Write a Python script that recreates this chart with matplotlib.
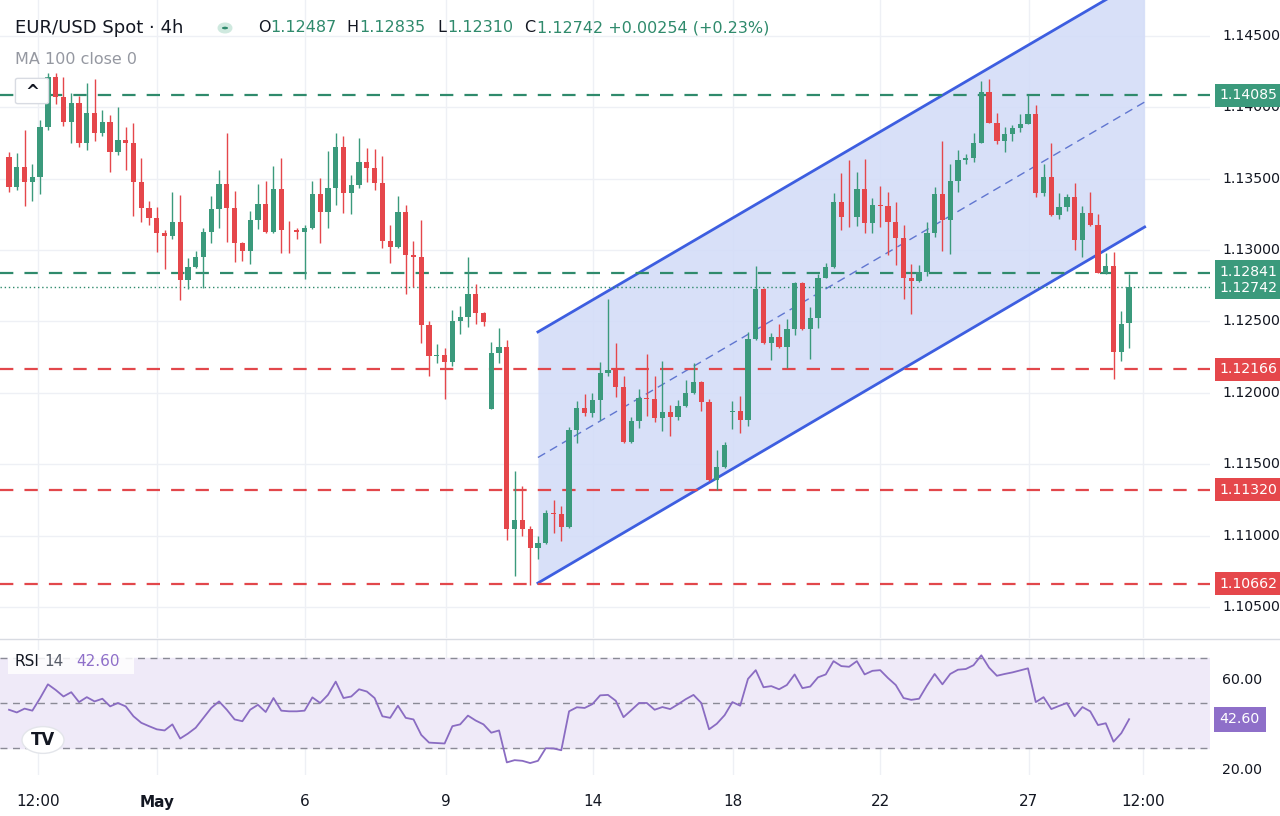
import matplotlib
matplotlib.use("Agg")
import matplotlib.pyplot as plt
from matplotlib.patches import Rectangle, Circle, FancyBboxPatch
from matplotlib.transforms import blended_transform_factory
import numpy as np

# ---------------- data ----------------
first_open = 1.13652
closes = [
 1.13442,1.13582,1.13477,1.13512,1.13863,1.14213,1.14073,1.13898,1.14031,1.13750,
 1.13961,1.13821,1.13898,1.13687,1.13771,1.13750,1.13477,1.13295,1.13225,1.13120,
 1.13099,1.13197,1.12791,1.12882,1.12952,1.13127,1.13288,1.13463,1.13295,1.13050,
 1.12994,1.13211,1.13323,1.13127,1.13428,1.13141,1.13138,1.13127,
 1.13155,1.13393,1.13267,1.13435,1.13722,1.13400,1.13456,1.13617,1.13575,1.13470,
 1.13064,1.13022,1.13267,1.12966,1.12952,1.12476,1.12258,1.12265,1.12216,1.12504,
 1.12532,1.12693,1.12560,1.12497,1.12279,1.12321,1.11047,1.11110,1.11047,1.10913,
 1.10948,1.11159,1.11155,1.11061,1.11740,1.11894,1.11859,
 1.11950,1.12139,1.12160,1.12041,1.11656,1.11803,1.11964,1.11960,1.11824,1.11866,
 1.11831,1.11908,1.11999,1.12076,1.11936,1.11390,1.11481,1.11635,1.11870,1.11810,
 1.12378,1.12728,1.12350,1.12392,1.12321,1.12448,1.12770,1.12448,1.12525,1.12805,
 1.12882,1.13337,1.13232,1.13230,1.13428,1.13190,1.13316,
 1.13310,1.13197,1.13085,1.12805,1.12784,1.12847,1.13120,1.13393,1.13211,1.13484,
 1.13631,1.13645,1.13750,1.14108,1.13891,1.13765,1.13814,1.13856,1.13884,1.13954,
 1.13400,1.13512,1.13246,1.13302,1.13372,1.13071,1.13260,1.13176,1.12840,1.12889,
 1.12286,1.12483,1.12742]
gap_opens = {62: 1.11887, 93: 1.11866, 144: 1.12487}
upper_wick_pips = [
 3.5,10,26,9,5,3,3,14,7,5,21,24,8,5,23,9,14,17,5,8,2,21,19,6,4,3,9,10,36,12,1,6,14,16,16,22,6,2,
 2,9,11,26,10,8,7,17,10,13,19,11,11,5,10,26,3,8,5,8,8,26,7,1,8,13,5,34,24,2,5,2,9,5,2,5,10,
 5,8,50,19,8,3,6,31,16,36,5,4,9,13,1,2,12,2,7,11,5,16,1,3,9,7,1,1,8,3,3,6,20,40,12,21,5,
 13,10,14,9,10,5,8,5,37,12,7,3,7,8,9,7,5,2,7,13,6,9,24,10,2,10,5,15,8,9,10,9,9]
lower_wick_pips = [
 3.5,2,17,13,12,2,5,3,15,3,5,6,2,14,2,19,24,10,5,13,23,2,14,6,1,22,8,13,24,13,7,9,6,1,1,16,16,5,
 33,1,22,11,12,14,15,2,10,5,5,11,1,27,21,13,14,5,26,3,9,7,8,3,0,7,8,33,5,26,8,1,14,10,1,9,2,
 3,14,2,7,1,1,5,12,3,9,13,2,1,1,6,1,7,1,12,9,4,1,1,12,1,15,4,1,21,7,0,1,9,7,6,7,7,
 15,23,19,15,23,1,3,3,22,24,8,3,3,0,0,2,8,5,3,0,3,2,1,3,3,7,12,1,0,1,19,6,17]
rsi = [
 46.8,45.6,47.3,46.4,52.0,58.1,55.6,52.7,54.6,50.2,52.4,50.5,51.7,48.3,49.8,48.3,43.9,41.0,39.5,38.1,
 37.6,40.3,34.0,36.2,38.8,43.2,47.6,50.5,46.8,42.5,41.7,46.8,49.0,45.8,52.0,46.4,46.1,46.1,46.4,52.3,
 49.8,53.4,59.3,52.0,52.7,55.9,54.9,52.0,43.9,43.2,48.6,43.2,42.5,35.6,32.2,32.0,31.8,39.5,40.3,44.2,
 42.0,40.3,36.6,37.6,23.4,24.4,24.1,23.1,24.1,29.7,29.6,28.8,46.1,47.9,47.6,49.3,53.2,53.4,50.8,43.5,
 46.6,49.8,49.8,46.8,48.0,47.1,49.2,51.5,53.4,49.8,38.1,40.6,44.4,50.2,48.6,60.5,64.4,56.8,57.3,55.9,
 57.8,62.5,56.4,57.1,61.2,62.5,68.4,66.2,65.9,68.4,62.5,64.1,64.4,60.9,57.8,52.0,51.2,51.7,57.5,62.7,
 58.1,62.7,64.6,64.9,66.6,71.0,65.5,61.9,62.7,63.4,64.3,65.2,50.2,52.4,47.1,48.5,49.8,43.9,48.0,46.1,
 40.0,40.8,32.6,36.4,42.6]
tick_pos = [3.7, 19.0, 38.0, 56.2, 75.1, 93.1, 112.0, 131.1, 145.8]
tick_labels = ["12:00", "May", "6", "9", "14", "18", "22", "27", "12:00"]
green_levels = [1.14085, 1.12841]
red_levels = [1.12166, 1.11320, 1.10662]
last_price = 1.12742
channel_x = [68.0, 146.0]
channel_upper = [1.12427, 1.14913]
channel_lower = [1.10668, 1.13162]
price_ticks = [1.145, 1.140, 1.135, 1.130, 1.125, 1.120, 1.115, 1.110, 1.105]
rsi_ticks = [60, 20]

GREEN = "#3b9a7c"
RED = "#e5474b"
BLUE = "#3d5ee0"

# ---------------- figure ----------------
W, H = 1280, 816
fig = plt.figure(figsize=(W/100, H/100), dpi=100)
fig.patch.set_facecolor("white")
plot_w = 1210 / W
ax = fig.add_axes([0, 178/H, plot_w, 638/H])
axr = fig.add_axes([0, 41/H, plot_w, 135/H], sharex=ax)

n = len(closes)
opens = []
prev = first_open
for i in range(n):
    opens.append(gap_opens.get(i, prev))
    prev = closes[i]
xs = np.arange(n)

ax.set_xlim(-1.16, 154.4)
ax.set_ylim(1.10283, 1.14752)
for a in (ax, axr):
    for s in a.spines.values():
        s.set_visible(False)
    a.tick_params(left=False, right=False, labelleft=False, bottom=False, labelbottom=False)

# grid
for t in tick_pos:
    ax.axvline(t, color="#eef0f5", lw=1, zorder=0)
    axr.axvline(t, color="#eef0f5", lw=1, zorder=0)
for p in price_ticks:
    ax.axhline(p, color="#eef0f5", lw=1, zorder=0)

# channel
ax.fill_between(channel_x, channel_lower, channel_upper, color="#d4ddf8", alpha=0.9, zorder=1, lw=0)
ax.plot(channel_x, channel_upper, color=BLUE, lw=2, zorder=2)
ax.plot(channel_x, channel_lower, color=BLUE, lw=2, zorder=2)
mid = [(u + l) / 2 for u, l in zip(channel_upper, channel_lower)]
ax.plot(channel_x, mid, color="#6076d0", lw=1, ls=(0, (6, 4)), zorder=2)

# levels
for lv in green_levels:
    ax.axhline(lv, color="#2f8a6c", lw=1.6, ls=(0, (6, 5)), zorder=3)
for lv in red_levels:
    ax.axhline(lv, color="#e2474b", lw=1.6, ls=(0, (6, 5)), zorder=3)
ax.axhline(last_price, color="#2f8a6c", lw=1, ls=(0, (1, 2)), zorder=3)

# candles
for i in range(n):
    o, c = opens[i], closes[i]
    col = GREEN if c >= o else RED
    hi = max(o, c) + upper_wick_pips[i] * 1e-4
    lo = min(o, c) - lower_wick_pips[i] * 1e-4
    ax.vlines(xs[i], lo, hi, color=col, lw=1, zorder=4)
    body = max(abs(c - o), 0.00004)
    ax.add_patch(Rectangle((xs[i] - 0.34, min(o, c)), 0.68, body, color=col, zorder=5, lw=0))

# price axis labels
trans = blended_transform_factory(ax.transAxes, ax.transData)
for p in price_ticks:
    ax.text(1.01, p, f"{p:.5f}", transform=trans, ha="left", va="center",
            fontsize=10.2, color="#131722", clip_on=False)
badges = [(1.14085, GREEN, 0), (1.12841, GREEN, 0.00007), (1.12742, GREEN, -0.00005),
          (1.12166, RED, 0), (1.11320, RED, 0), (1.10662, RED, 0)]
for p, col, off in badges:
    ax.text(1.008, p + off, f"{p:.5f}", transform=trans, ha="left", va="center",
            fontsize=10.2, color="white", clip_on=False, zorder=10,
            bbox=dict(boxstyle="square,pad=0.32", fc=col, ec="none"))

# RSI panel
axr.set_ylim(17.8, 77.8)
axr.axhspan(30, 70, color="#efeaf8", zorder=0)
for lv in (70, 50, 30):
    axr.axhline(lv, color="#8a8a96", lw=1, ls=(0, (5, 4)), zorder=1)
axr.plot(xs, rsi, color="#8a6cc2", lw=1.3, zorder=3)
transr = blended_transform_factory(axr.transAxes, axr.transData)
for r in rsi_ticks:
    axr.text(1.01, r, f"{r:.2f}", transform=transr, ha="left", va="center",
             fontsize=10.2, color="#131722", clip_on=False)
axr.text(1.008, rsi[-1], f"{rsi[-1]:.2f}", transform=transr, ha="left", va="center",
         fontsize=10.2, color="white", clip_on=False,
         bbox=dict(boxstyle="square,pad=0.4", fc="#8e6fc9", ec="none"))

# x tick labels
for t, lab in zip(tick_pos, tick_labels):
    axr.text(t, -0.2, lab, transform=blended_transform_factory(axr.transData, axr.transAxes),
             ha="center", va="center", fontsize=11, color="#131722",
             fontweight="bold" if lab == "May" else "normal", clip_on=False)

# separator
fig.add_artist(plt.Line2D([0, 1], [1 - 639/H, 1 - 639/H], color="#d8dbe2", lw=1))

# header
def ft(x, y, s, **kw):
    fig.text(x / W, 1 - y / H, s, va="center", **kw)
ft(15, 28, "EUR/USD Spot · 4h", fontsize=13, color="#131722")
fig.add_artist(Circle((225 / W, 1 - 28 / H), 0.0042, transform=fig.transFigure,
                      fc="#2f8a6c", ec="#cfe9df", lw=3))
ft(258, 28, "O", fontsize=11.5, color="#131722")
ft(270, 28, "1.12487", fontsize=11.5, color="#2f8a6c")
ft(346, 28, "H", fontsize=11.5, color="#131722")
ft(359, 28, "1.12835", fontsize=11.5, color="#2f8a6c")
ft(437, 28, "L", fontsize=11.5, color="#131722")
ft(447, 28, "1.12310", fontsize=11.5, color="#2f8a6c")
ft(524, 28, "C", fontsize=11.5, color="#131722")
ft(537, 28, "1.12742 +0.00254 (+0.23%)", fontsize=11.5, color="#2f8a6c")
ft(15, 59, "MA 100 close 0", fontsize=11.5, color="#9598a1")
fig.add_artist(FancyBboxPatch((18 / W, 1 - 102 / H), 28 / W, 22 / H,
               boxstyle="round,pad=0.002", transform=fig.transFigure,
               fc="white", ec="#d8dbe2", lw=1, zorder=20))
ft(32, 92, "^", fontsize=12, color="#131722", ha="center", zorder=21, fontweight="bold")

# RSI legend
fig.add_artist(Rectangle((8 / W, 1 - 674 / H), 126 / W, 24 / H, transform=fig.transFigure,
                         fc="white", ec="none", alpha=0.85, zorder=19))
ft(15, 662, "RSI", fontsize=11, color="#131722", zorder=21)
ft(44, 662, "14", fontsize=11, color="#555a66", zorder=21)
ft(76, 662, "42.60", fontsize=11, color="#8e6fc9", zorder=21)

# TradingView logo
fig.add_artist(Circle((43 / W, 1 - 740 / H), 21 / W, transform=fig.transFigure,
                      fc="white", ec="#e3e5ea", lw=1, zorder=20))
ft(43, 740, "TV", fontsize=12, color="#131722", ha="center", fontweight="bold", zorder=21)

fig.savefig("out.png", dpi=100)
